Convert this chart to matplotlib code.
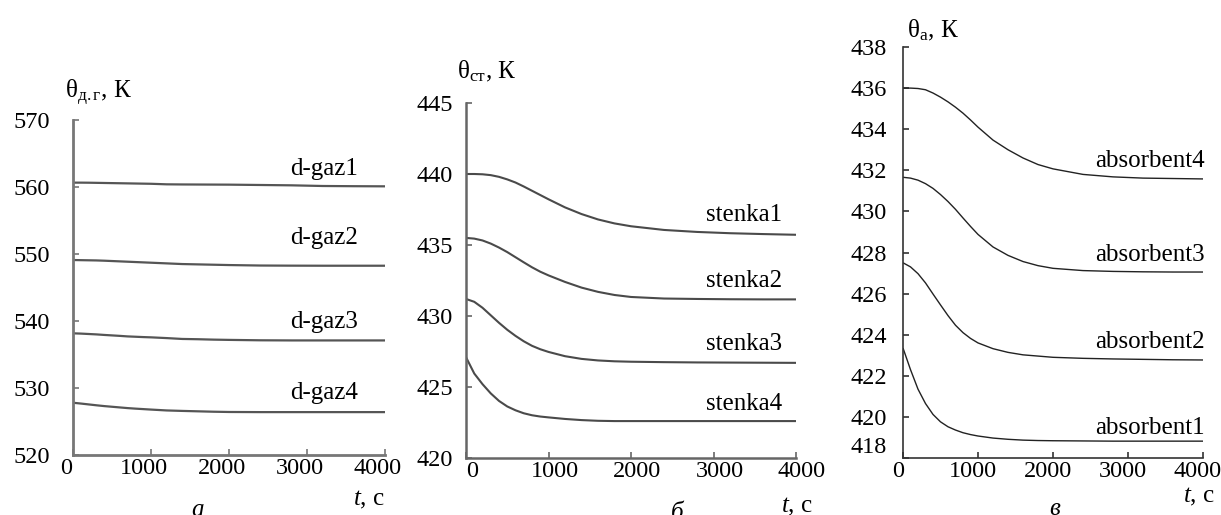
import matplotlib
matplotlib.use("Agg")
import matplotlib.pyplot as plt
import matplotlib.transforms as mtransforms

plt.rcParams['font.family'] = ['Liberation Serif', 'DejaVu Serif']
plt.rcParams['mathtext.fontset'] = 'custom'
plt.rcParams['mathtext.rm'] = 'Liberation Serif'
plt.rcParams['mathtext.it'] = 'Liberation Serif:italic'

# time grid, s
t = [0, 100, 200, 300, 400, 500, 600, 700, 800, 900, 1000,
     1200, 1400, 1600, 1800, 2000, 2400, 2800, 3200, 3600, 4000]

# exhaust gas temperature, K
d_gaz1 = [560.65, 560.65, 560.64, 560.62, 560.6, 560.58, 560.56, 560.54, 560.52, 560.5, 560.48,
          560.4, 560.38, 560.37, 560.36, 560.35, 560.3, 560.25, 560.15, 560.12, 560.1]
d_gaz2 = [549.1, 549.08, 549.06, 549.04, 549.0, 548.95, 548.9, 548.85, 548.8, 548.75, 548.7,
          548.6, 548.5, 548.45, 548.4, 548.35, 548.28, 548.26, 548.25, 548.25, 548.25]
d_gaz3 = [538.16, 538.12, 538.06, 538.0, 537.92, 537.85, 537.78, 537.7, 537.65, 537.6, 537.56,
          537.45, 537.32, 537.28, 537.22, 537.18, 537.12, 537.1, 537.1, 537.1, 537.1]
d_gaz4 = [527.8, 527.68, 527.55, 527.42, 527.3, 527.2, 527.1, 527.0, 526.92, 526.85, 526.78,
          526.65, 526.58, 526.52, 526.46, 526.42, 526.4, 526.4, 526.4, 526.4, 526.4]

# wall temperature, K
stenka1 = [440.0, 440.0, 439.98, 439.92, 439.8, 439.62, 439.4, 439.12, 438.82, 438.52, 438.22,
           437.65, 437.18, 436.8, 436.52, 436.32, 436.06, 435.92, 435.83, 435.77, 435.72]
stenka2 = [435.5, 435.45, 435.32, 435.1, 434.82, 434.5, 434.14, 433.78, 433.43, 433.12, 432.86,
           432.4, 432.0, 431.7, 431.48, 431.34, 431.23, 431.2, 431.18, 431.17, 431.17]
stenka3 = [431.2, 431.0, 430.58, 430.05, 429.52, 429.03, 428.6, 428.22, 427.9, 427.66, 427.47,
           427.17, 426.98, 426.87, 426.81, 426.78, 426.75, 426.73, 426.72, 426.71, 426.7]
stenka4 = [427.1, 425.95, 425.2, 424.55, 424.02, 423.63, 423.36, 423.15, 423.01, 422.92, 422.86,
           422.75, 422.67, 422.62, 422.6, 422.6, 422.6, 422.6, 422.6, 422.6, 422.6]

# absorbent temperature, K
absorbent1 = [423.35, 422.3, 421.35, 420.65, 420.12, 419.76, 419.52, 419.36, 419.23, 419.14, 419.07,
              418.97, 418.91, 418.87, 418.85, 418.84, 418.83, 418.82, 418.82, 418.82, 418.82]
absorbent2 = [427.5, 427.3, 426.97, 426.52, 425.98, 425.45, 424.93, 424.46, 424.1, 423.82, 423.6,
              423.32, 423.14, 423.02, 422.96, 422.9, 422.85, 422.82, 422.8, 422.78, 422.77]
absorbent3 = [431.66, 431.62, 431.52, 431.35, 431.12, 430.82, 430.48, 430.1, 429.68, 429.27, 428.88,
              428.27, 427.86, 427.56, 427.36, 427.23, 427.12, 427.08, 427.06, 427.05, 427.05]
absorbent4 = [436.0, 436.0, 435.98, 435.92, 435.76, 435.56, 435.33, 435.07, 434.78, 434.45, 434.1,
              433.47, 433.0, 432.6, 432.28, 432.07, 431.8, 431.68, 431.62, 431.6, 431.58]

W, H = 1221, 515
FS = 18
fig = plt.figure(figsize=(W / 100, H / 100), dpi=100)


def px_axes(x0, x1, ytop, ybot):
    return fig.add_axes([x0 / W, (H - ybot) / H, (x1 - x0) / W, (ybot - ytop) / H])


panels = [
    dict(box=(73, 385, 120, 455), ylim=(520, 570), ystep=10, pad=16.5, xshift=-7,
         lw=1.6, color='#555555', spine='#777777', spine_lw=2.0,
         series=[d_gaz1, d_gaz2, d_gaz3, d_gaz4],
         names=['d-gaz1', 'd-gaz2', 'd-gaz3', 'd-gaz4'],
         label_t=3654, label_y=[561.85, 551.5, 538.9, 528.4],
         ylabel=r'$\mathrm{θ_{д.г}}$, К', ylabel_xy=(65, 98),
         tlabel_xy=(385, 505), letter='а', letter_xy=(197, 516)),
    dict(box=(466, 796, 103, 458), ylim=(420, 445), ystep=5, pad=9.4, xshift=6,
         lw=1.5, color='#4a4a4a', spine='#666666', spine_lw=1.8,
         series=[stenka1, stenka2, stenka3, stenka4],
         names=['stenka1', 'stenka2', 'stenka3', 'stenka4'],
         label_t=3830, label_y=[436.7, 432.02, 427.58, 423.37],
         ylabel=r'$\mathrm{θ_{ст}}$, К', ylabel_xy=(457, 78),
         tlabel_xy=(813, 512), letter='б', letter_xy=(677, 519)),
    dict(box=(903, 1203, 47, 458), ylim=(418, 438), ystep=2, pad=11.5, xshift=-5,
         lw=1.0, color='#222222', spine='#333333', spine_lw=1.2,
         series=[absorbent4, absorbent3, absorbent2, absorbent1],
         names=['absorbent4', 'absorbent3', 'absorbent2', 'absorbent1'],
         label_t=4027, label_y=[432.18, 427.6, 423.37, 419.15],
         ylabel=r'$\mathrm{θ_{a}}$, К', ylabel_xy=(907, 37),
         tlabel_xy=(1215, 502), letter='в', letter_xy=(1055, 515)),
]

for p in panels:
    ax = px_axes(*p['box'])
    for s in p['series']:
        ax.plot(t, s, color=p['color'], lw=p['lw'], solid_capstyle='butt',
                solid_joinstyle='round')
    for name, ly in zip(p['names'], p['label_y']):
        ax.text(p['label_t'], ly, name, ha='right', va='baseline', fontsize=FS, clip_on=False)

    ax.set_xlim(0, 4000)
    ax.set_ylim(*p['ylim'])
    ax.set_xticks(range(0, 4001, 1000))
    lo, hi = p['ylim']
    ax.set_yticks(list(range(lo, hi + 1, p['ystep'])))
    for side in ('top', 'right'):
        ax.spines[side].set_visible(False)
    for side in ('left', 'bottom'):
        ax.spines[side].set_color(p['spine'])
        ax.spines[side].set_linewidth(p['spine_lw'])
    ax.tick_params(direction='in', length=4, width=1.2, color=p['spine'],
                   labelsize=FS - 0.5)
    ax.tick_params(axis='y', pad=p['pad'])
    ax.tick_params(axis='x', pad=2)

    # nudge x tick labels sideways
    shift = mtransforms.ScaledTranslation(p['xshift'] / 100, 0, fig.dpi_scale_trans)
    for lbl in ax.get_xticklabels():
        lbl.set_transform(lbl.get_transform() + shift)

    # axis captions
    fig.text(p['ylabel_xy'][0] / W, 1 - p['ylabel_xy'][1] / H, p['ylabel'],
             ha='left', va='baseline', fontsize=FS)
    fig.text(p['tlabel_xy'][0] / W, 1 - p['tlabel_xy'][1] / H, r'$\mathit{t}$, с',
             ha='right', va='baseline', fontsize=FS)
    fig.text(p['letter_xy'][0] / W, 1 - p['letter_xy'][1] / H, p['letter'],
             ha='center', va='baseline', fontsize=FS, style='italic')

# the lowest label of the right panel sits a little above its tick
ax_last = fig.axes[-1]
up = mtransforms.ScaledTranslation(0, 13 / 100, fig.dpi_scale_trans)
ax_last.get_yticklabels()[0].set_transform(ax_last.get_yticklabels()[0].get_transform() + up)

fig.savefig('out.png', dpi=100)
